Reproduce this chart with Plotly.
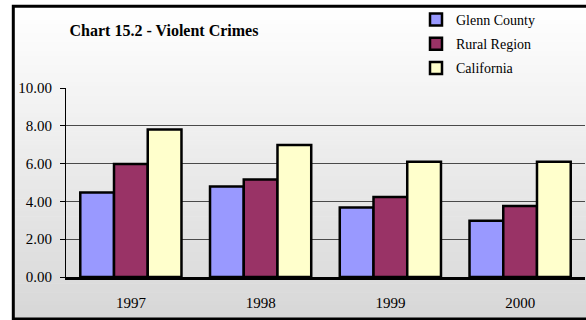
import plotly.graph_objects as go

years = ["1997", "1998", "1999", "2000"]
glenn = [4.47, 4.79, 3.68, 2.97]
rural = [5.98, 5.16, 4.23, 3.76]
california = [7.81, 6.98, 6.10, 6.10]
series_names = ["Glenn County", "Rural Region", "California"]
series_colors = ["#9999ff", "#993366", "#ffffcc"]
title_text = "Chart 15.2 - Violent Crimes"

W, H = 586, 320
L, R, T, B = 66, 1, 88, 43
PW, PH = W - L - R, H - T - B

def px_x(px):
    return (px - L) / PW

def px_y(py):
    return (H - B - py) / PH

FONT = "Liberation Serif, Times New Roman, serif"

fig = go.Figure()
for name, vals, col in zip(series_names, [glenn, rural, california], series_colors):
    fig.add_trace(go.Bar(
        x=years, y=vals, name=name, legendgroup=name,
        marker=dict(color=col, line=dict(color="black", width=2.5)),
    ))

# gradient background stripes (decoration)
shapes = []
top, bot = 6.0, 319.0
n = 70
c0, c1 = 255, 215
for i in range(n):
    y0 = top + (bot - top) * i / n
    y1 = top + (bot - top) * (i + 1) / n + 0.6
    v = round(c0 + (c1 - c0) * (i + 0.5) / n)
    shapes.append(dict(type="rect", xref="paper", yref="paper",
                       x0=px_x(13), x1=px_x(600), y0=px_y(min(y1, bot)), y1=px_y(y0),
                       fillcolor=f"rgb({v},{v},{v})", line=dict(width=0), layer="below"))
shapes.append(dict(type="rect", xref="paper", yref="paper",
                   x0=px_x(13.3), x1=px_x(600), y0=px_y(319), y1=px_y(6.3),
                   fillcolor="rgba(0,0,0,0)", line=dict(color="black", width=3), layer="above"))

fig.update_layout(
    width=W, height=H,
    margin=dict(l=L, r=R, t=T, b=B, pad=0),
    paper_bgcolor="white",
    plot_bgcolor="rgba(0,0,0,0)",
    barmode="group", bargap=0.22, bargroupgap=0,
    font=dict(family=FONT, color="black"),
    title=dict(text="<b>" + title_text + "</b>", x=164 / W, xanchor="center",
               y=1 - 30 / H, yanchor="middle", font=dict(family=FONT, size=16, color="black")),
    legend=dict(x=px_x(416), xanchor="left", y=px_y(4), yanchor="top",
                font=dict(family=FONT, size=14, color="black"),
                bgcolor="rgba(0,0,0,0)", borderwidth=0, tracegroupgap=3,
                traceorder="grouped"),
    showlegend=True,
    shapes=shapes,
    xaxis=dict(showline=True, linecolor="black", linewidth=3, ticks="",
               tickfont=dict(family=FONT, size=15, color="black"),
               ticklabelstandoff=10, showgrid=False),
    yaxis=dict(range=[0, 10], dtick=2, tickformat=".2f", showline=True, linecolor="black",
               linewidth=1, ticks="outside", ticklen=5, tickcolor="black",
               tickfont=dict(family=FONT, size=15, color="black"), ticklabelstandoff=5,
               showgrid=True, gridcolor="#4a4a4a", gridwidth=1, zeroline=False),
)

fig.write_html("out.html", config={"displayModeBar": False},
               post_script="document.body.style.margin='0';document.body.style.overflow='hidden';")
